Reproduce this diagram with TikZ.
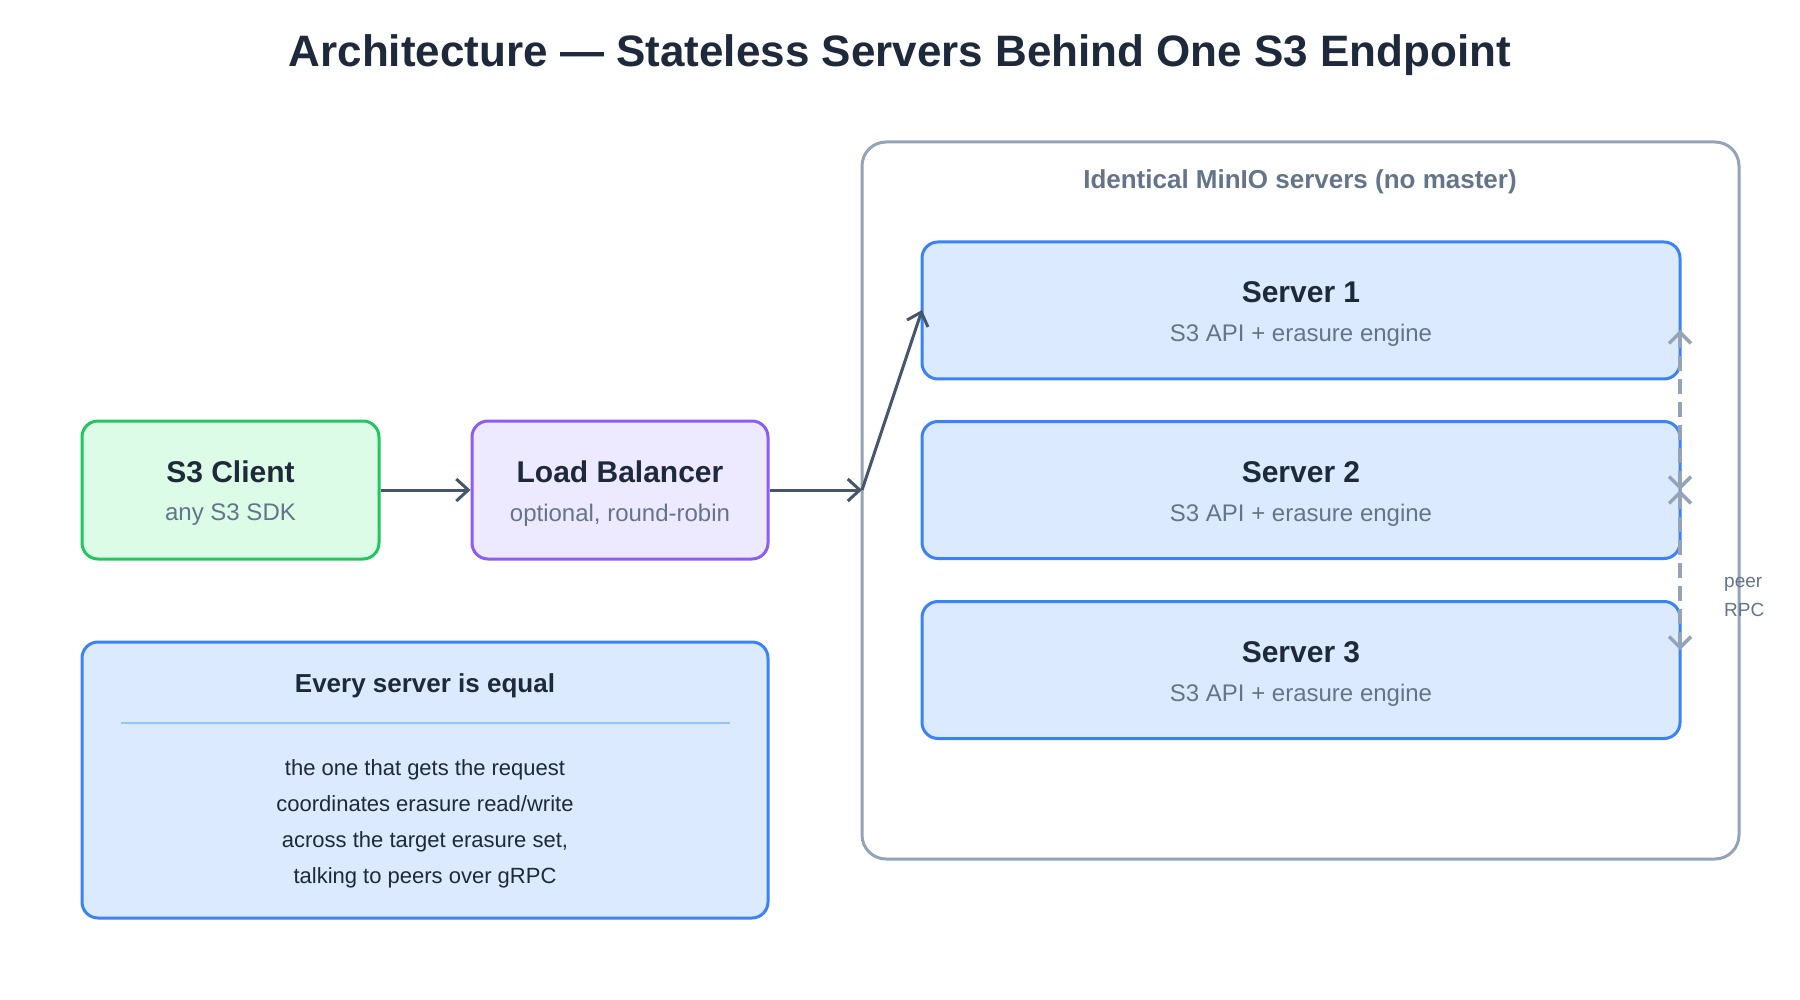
\documentclass[tikz,border=0pt]{standalone}
\usepackage{fontspec}
\setmainfont{Liberation Sans}
\usetikzlibrary{arrows.meta}
\definecolor{ink}{HTML}{1E293B}
\definecolor{muted}{HTML}{64748B}
\definecolor{grayb}{HTML}{94A3B8}
\definecolor{arrowc}{HTML}{475569}
\definecolor{greenb}{HTML}{22C55E}
\definecolor{greenf}{HTML}{DCFCE7}
\definecolor{purpb}{HTML}{8B5CF6}
\definecolor{purpf}{HTML}{EDE9FE}
\definecolor{blueb}{HTML}{3B82F6}
\definecolor{bluef}{HTML}{DBEAFE}
\definecolor{sepc}{HTML}{93C5FD}
\begin{document}
\begin{tikzpicture}[x=1pt,y=-1pt,
  box/.style={draw, line width=3pt, rounded corners=16pt, inner sep=0pt},
  ttl/.style={font=\fontsize{30}{34}\selectfont\bfseries, text=ink},
  subt/.style={font=\fontsize{24}{28}\selectfont, text=muted},
  body/.style={font=\fontsize{22}{36}\selectfont, text=ink, align=center},
  arr/.style={draw=arrowc, line width=3pt, -{Straight Barb[length=12pt,width=22pt,line width=3pt]}},
  peer/.style={draw=grayb, line width=3.5pt, dash pattern=on 15pt off 8pt,
     {Straight Barb[length=11pt,width=22pt,line width=3.5pt]}-{Straight Barb[length=11pt,width=22pt,line width=3.5pt]}}
]
\useasboundingbox[fill=white] (0,0) rectangle (1800,1000);

\node[font=\fontsize{44}{50}\selectfont\bfseries, text=ink] (title) at (900,55) {Architecture — Stateless Servers Behind One S3 Endpoint};

% container
\node[box, draw=grayb, fill=white, rounded corners=24pt, minimum width=877pt, minimum height=717pt] (group) at (1300.5,500.5) {};
\node[font=\fontsize{26}{30}\selectfont\bfseries, text=muted] (grouplbl) at (1300,182) {Identical MinIO servers (no master)};

% client and LB
\node[box, draw=greenb, fill=greenf, minimum width=297pt, minimum height=138pt] (client) at (230.5,490) {};
\node[ttl] (clientt) at (230.5,472) {S3 Client};
\node[subt] (clients) at (230.5,515) {any S3 SDK};

\node[box, draw=purpb, fill=purpf, minimum width=296pt, minimum height=138pt] (lb) at (620,490) {};
\node[ttl] (lbt) at (620,472) {Load Balancer};
\node[subt] (lbs) at (620,515) {optional, round-robin};

% servers
\foreach \i/\y in {1/310.5,2/490,3/670}{
  \node[box, draw=blueb, fill=bluef, minimum width=758pt, minimum height=137pt] (s\i) at (1301,\y) {};
  \node[ttl] (s\i t) at (1301,\y-18) {Server \i};
  \node[subt] (s\i s) at (1301,\y+25) {S3 API + erasure engine};
}

% note box
\node[box, draw=blueb, fill=bluef, minimum width=686pt, minimum height=276pt] (note) at (425,780) {};
\node[font=\fontsize{26}{30}\selectfont\bfseries, text=ink] (notet) at (425,686) {Every server is equal};
\coordinate (sepl) at (121,723);
\coordinate (sepr) at (730,723);
\draw[sepc, line width=1.5pt] (sepl) -- (sepr);
\node[body] (noteb) at (425,824) {the one that gets the request\\coordinates erasure read/write\\across the target erasure set,\\talking to peers over gRPC};

% arrows
\coordinate (entry) at (862,490);
\coordinate (s1in) at (922,310);
\draw[arr] (client.east) -- (lb.west);
\draw[arr] (lb.east) -- (entry);
\draw[arr] (entry) -- (s1in);

% peer RPC
\coordinate (p1) at (1680,330);
\coordinate (p2) at (1680,490);
\coordinate (p3) at (1680,650);
\draw[peer] (p2) -- (p1);
\draw[peer] (p2) -- (p3);
\node[font=\fontsize{19}{29}\selectfont, text=muted, align=left, anchor=north west, inner sep=0pt] (peerlbl) at (1724,577) {peer\\RPC};
\end{tikzpicture}
\end{document}
